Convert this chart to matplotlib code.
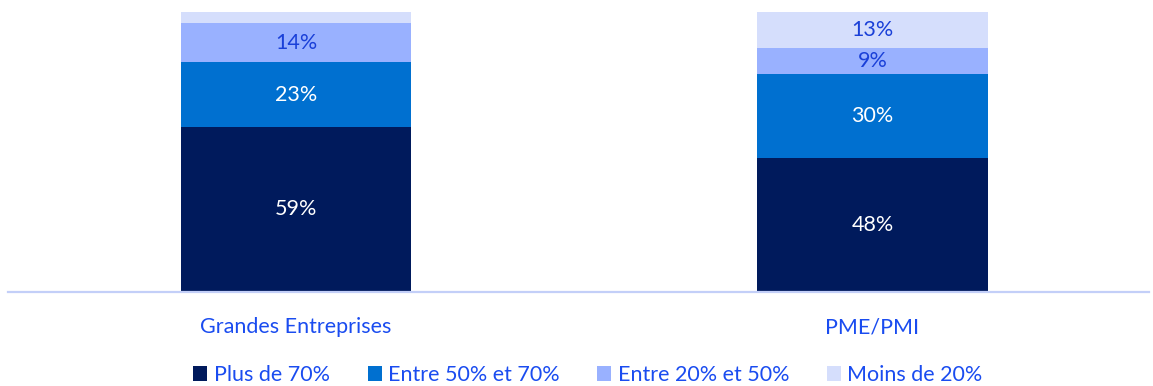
import matplotlib.pyplot as plt
from matplotlib.patches import Patch

categories = ["Grandes Entreprises", "PME/PMI"]
series_names = ["Plus de 70%", "Entre 50% et 70%", "Entre 20% et 50%", "Moins de 20%"]
plus_70 = [59, 48]
entre_50_70 = [23, 30]
entre_20_50 = [14, 9]
moins_20 = [4, 13]
# segments below this share are left without a printed label
min_labelled = 5

series = [plus_70, entre_50_70, entre_20_50, moins_20]
colors = ["#001a5c", "#0070d0", "#99b1ff", "#d5defc"]
label_colors = ["white", "white", "#1a40d8", "#1a40d8"]
text_blue = "#1a4cf0"
fs = 15.5

plt.rcParams["font.family"] = ["Lato", "DejaVu Sans"]

fig = plt.figure(figsize=(11.53, 3.86), dpi=100)
ax = fig.add_axes([8 / 1153, 94 / 386, 1141 / 1153, 280 / 386])

x = list(range(len(categories)))
bottoms = [0] * len(categories)
for vals, col, lc in zip(series, colors, label_colors):
    ax.bar(x, vals, bottom=bottoms, width=0.4, color=col, edgecolor="none")
    for xi, v, b in zip(x, vals, bottoms):
        if v >= min_labelled:
            ax.text(xi, b + v / 2, f"{v}%", ha="center", va="center",
                    color=lc, fontsize=fs)
    bottoms = [b + v for b, v in zip(bottoms, vals)]

ax.set_xlim(-0.5, 1.48)
ax.set_ylim(0, 100)
ax.set_yticks([])
ax.set_xticks(x)
ax.set_xticklabels(categories, color=text_blue, fontsize=fs)
ax.tick_params(axis="x", length=0, pad=18)
for s in ["top", "right", "left"]:
    ax.spines[s].set_visible(False)
ax.spines["bottom"].set_color("#c3cff8")
ax.spines["bottom"].set_linewidth(1.6)

handles = [Patch(facecolor=c, edgecolor="none") for c in colors]
leg = fig.legend(handles, series_names, loc="center", bbox_to_anchor=(588 / 1153, 1 - 375 / 386),
                 ncol=4, frameon=False, fontsize=fs, handlelength=0.65, handleheight=0.65,
                 handletextpad=0.3, columnspacing=1.75)
for t in leg.get_texts():
    t.set_color(text_blue)

fig.savefig("out.png", dpi=100)
